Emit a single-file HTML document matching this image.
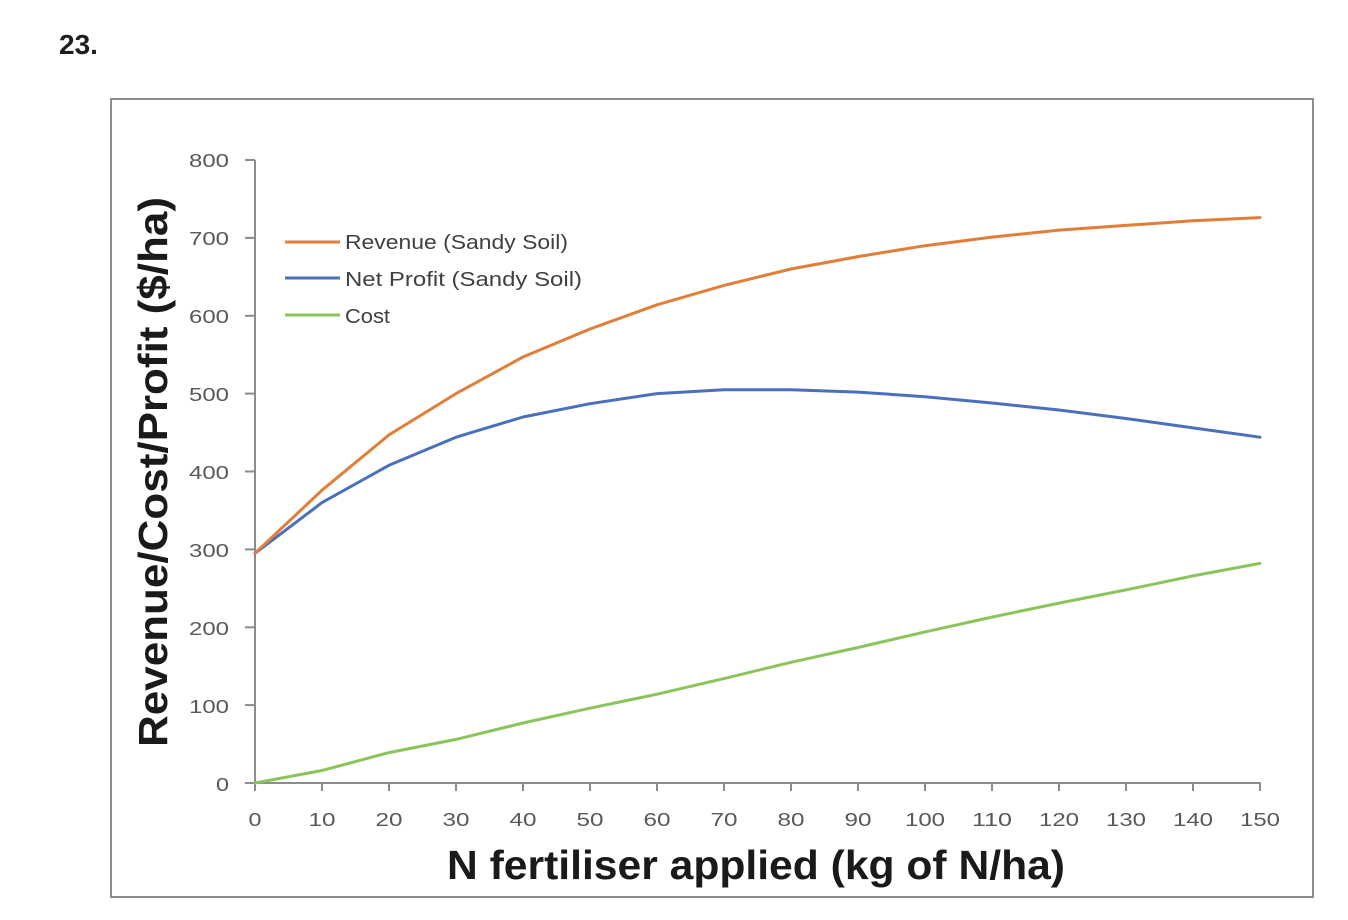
<!DOCTYPE html>
<html>
<head>
<meta charset="utf-8">
<style>
  html, body { margin:0; padding:0; background:#ffffff; }
  body { width:1348px; height:920px; overflow:hidden; }
  svg { display:block; }
  text { font-family: "Liberation Sans", "DejaVu Sans", sans-serif; }
</style>
</head>
<body>
<svg width="1348" height="920" viewBox="0 0 1348 920" xmlns="http://www.w3.org/2000/svg">
  <rect x="0" y="0" width="1348" height="920" fill="#ffffff"/>

  <!-- Question number -->
  <text x="59" y="54" font-size="28" font-weight="bold" fill="#1e1e1e">23.</text>

  <!-- Chart border -->
  <rect x="111" y="99" width="1202" height="798" fill="#ffffff" stroke="#8c8c8c" stroke-width="2"/>

  <!-- Axes -->
  <g stroke="#8c8c8c" stroke-width="2" fill="none">
    <line x1="255" y1="160" x2="255" y2="784"/>
    <line x1="254" y1="783" x2="1261" y2="783"/>
    <!-- y ticks -->
    <line x1="245" y1="783" x2="255" y2="783"/>
    <line x1="245" y1="705.1" x2="255" y2="705.1"/>
    <line x1="245" y1="627.3" x2="255" y2="627.3"/>
    <line x1="245" y1="549.4" x2="255" y2="549.4"/>
    <line x1="245" y1="471.5" x2="255" y2="471.5"/>
    <line x1="245" y1="393.6" x2="255" y2="393.6"/>
    <line x1="245" y1="315.8" x2="255" y2="315.8"/>
    <line x1="245" y1="237.9" x2="255" y2="237.9"/>
    <line x1="245" y1="160" x2="255" y2="160"/>
    <!-- x ticks -->
    <line x1="255" y1="783" x2="255" y2="791"/>
    <line x1="322" y1="783" x2="322" y2="791"/>
    <line x1="389" y1="783" x2="389" y2="791"/>
    <line x1="456" y1="783" x2="456" y2="791"/>
    <line x1="523" y1="783" x2="523" y2="791"/>
    <line x1="590" y1="783" x2="590" y2="791"/>
    <line x1="657" y1="783" x2="657" y2="791"/>
    <line x1="724" y1="783" x2="724" y2="791"/>
    <line x1="791" y1="783" x2="791" y2="791"/>
    <line x1="858" y1="783" x2="858" y2="791"/>
    <line x1="925" y1="783" x2="925" y2="791"/>
    <line x1="992" y1="783" x2="992" y2="791"/>
    <line x1="1059" y1="783" x2="1059" y2="791"/>
    <line x1="1126" y1="783" x2="1126" y2="791"/>
    <line x1="1193" y1="783" x2="1193" y2="791"/>
    <line x1="1260" y1="783" x2="1260" y2="791"/>
  </g>

  <!-- Y tick labels -->
  <g font-size="18" fill="#595959" text-anchor="end">
    <text x="229" y="791" textLength="13" lengthAdjust="spacingAndGlyphs">0</text>
    <text x="229" y="713" textLength="40" lengthAdjust="spacingAndGlyphs">100</text>
    <text x="229" y="635" textLength="40" lengthAdjust="spacingAndGlyphs">200</text>
    <text x="229" y="557" textLength="40" lengthAdjust="spacingAndGlyphs">300</text>
    <text x="229" y="479" textLength="40" lengthAdjust="spacingAndGlyphs">400</text>
    <text x="229" y="401" textLength="40" lengthAdjust="spacingAndGlyphs">500</text>
    <text x="229" y="323" textLength="40" lengthAdjust="spacingAndGlyphs">600</text>
    <text x="229" y="245" textLength="40" lengthAdjust="spacingAndGlyphs">700</text>
    <text x="229" y="167" textLength="40" lengthAdjust="spacingAndGlyphs">800</text>
  </g>

  <!-- X tick labels -->
  <g font-size="18" fill="#595959" text-anchor="middle">
    <text x="255" y="826" textLength="13" lengthAdjust="spacingAndGlyphs">0</text>
    <text x="322" y="826" textLength="27" lengthAdjust="spacingAndGlyphs">10</text>
    <text x="389" y="826" textLength="27" lengthAdjust="spacingAndGlyphs">20</text>
    <text x="456" y="826" textLength="27" lengthAdjust="spacingAndGlyphs">30</text>
    <text x="523" y="826" textLength="27" lengthAdjust="spacingAndGlyphs">40</text>
    <text x="590" y="826" textLength="27" lengthAdjust="spacingAndGlyphs">50</text>
    <text x="657" y="826" textLength="27" lengthAdjust="spacingAndGlyphs">60</text>
    <text x="724" y="826" textLength="27" lengthAdjust="spacingAndGlyphs">70</text>
    <text x="791" y="826" textLength="27" lengthAdjust="spacingAndGlyphs">80</text>
    <text x="858" y="826" textLength="27" lengthAdjust="spacingAndGlyphs">90</text>
    <text x="925" y="826" textLength="40" lengthAdjust="spacingAndGlyphs">100</text>
    <text x="992" y="826" textLength="40" lengthAdjust="spacingAndGlyphs">110</text>
    <text x="1059" y="826" textLength="40" lengthAdjust="spacingAndGlyphs">120</text>
    <text x="1126" y="826" textLength="40" lengthAdjust="spacingAndGlyphs">130</text>
    <text x="1193" y="826" textLength="40" lengthAdjust="spacingAndGlyphs">140</text>
    <text x="1260" y="826" textLength="40" lengthAdjust="spacingAndGlyphs">150</text>
  </g>

  <!-- Axis titles -->
  <text x="447" y="879" font-size="41" font-weight="bold" fill="#1a1a1a" textLength="618" lengthAdjust="spacingAndGlyphs">N fertiliser applied (kg of N/ha)</text>
  <text transform="translate(167,747) rotate(-90)" x="0" y="0" font-size="41" font-weight="bold" fill="#1a1a1a" textLength="550" lengthAdjust="spacingAndGlyphs">Revenue/Cost/Profit  ($/ha)</text>

  <!-- Series -->
  <g fill="none" stroke-width="3" stroke-linejoin="round" stroke-linecap="round">
    <polyline stroke="#8cc45c" points="255,783 322,770.5 389,752.6 456,739.4 523,723 590,708.2 657,694.2 724,678.6 791,662.3 858,647.5 925,631.9 992,617.1 1059,603.1 1126,589.9 1193,575.9 1260,563.4"/>
    <polyline stroke="#4a70bd" points="255,553.3 322,502.6 389,465.3 456,437.2 523,417 590,403.7 657,393.6 724,389.7 791,389.7 858,392.1 925,396.7 992,403 1059,410 1126,418.5 1193,427.9 1260,437.2"/>
    <polyline stroke="#e07e3a" points="255,553.3 322,490.2 389,434.9 456,393.6 523,357 590,329 657,304.8 724,285.4 791,269 858,256.6 925,245.7 992,237.1 1059,230.1 1126,225.4 1193,220.7 1260,217.6"/>
  </g>

  <!-- Legend -->
  <g stroke-width="3" fill="none">
    <line x1="285" y1="242" x2="340" y2="242" stroke="#e07e3a"/>
    <line x1="285" y1="278" x2="340" y2="278" stroke="#4a70bd"/>
    <line x1="285" y1="315" x2="340" y2="315" stroke="#8cc45c"/>
  </g>
  <g font-size="20" fill="#404040">
    <text x="345" y="249" textLength="223" lengthAdjust="spacingAndGlyphs">Revenue (Sandy Soil)</text>
    <text x="345" y="286" textLength="237" lengthAdjust="spacingAndGlyphs">Net Profit (Sandy Soil)</text>
    <text x="345" y="323" textLength="45" lengthAdjust="spacingAndGlyphs">Cost</text>
  </g>
</svg>
</body>
</html>
